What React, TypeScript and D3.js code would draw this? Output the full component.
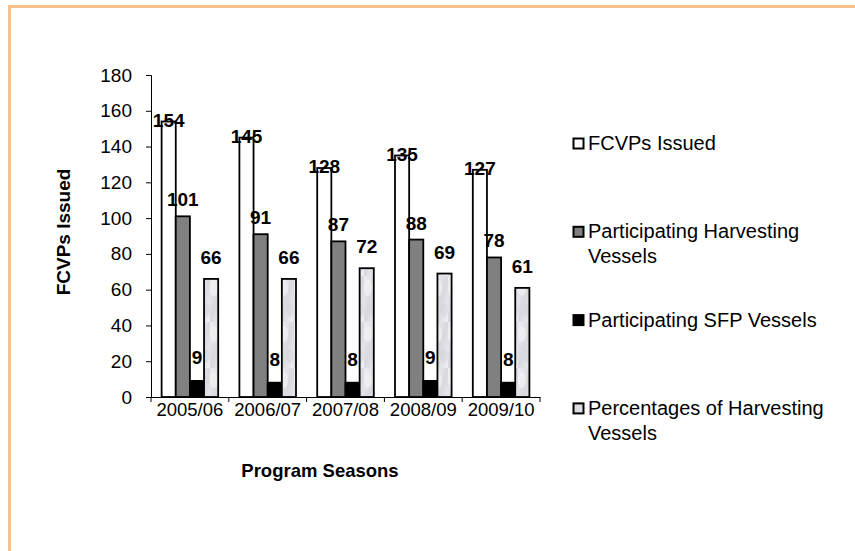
import React, { useEffect, useRef } from 'react';
import * as d3 from 'd3';

// data
const seasons = ['2005/06', '2006/07', '2007/08', '2008/09', '2009/10'];
const seriesNames = [
  'FCVPs Issued',
  'Participating Harvesting Vessels',
  'Participating SFP Vessels',
  'Percentages of Harvesting Vessels',
];
const fcvpsIssued = [154, 145, 128, 135, 127];
const harvestingVessels = [101, 91, 87, 88, 78];
const sfpVessels = [9, 8, 8, 9, 8];
const harvestingPct = [66, 66, 72, 69, 61];
const yTicks = [0, 20, 40, 60, 80, 100, 120, 140, 160, 180];

const legendLines = [
  ['FCVPs Issued'],
  ['Participating Harvesting', 'Vessels'],
  ['Participating SFP Vessels'],
  ['Percentages of Harvesting', 'Vessels'],
];

const W = 855;
const H = 551;
const font = 'Arial, "Liberation Sans", sans-serif';
const fills = ['#ffffff', '#808080', '#000000', 'url(#marble)'];
// label baseline offset from bar top, per series
const labelDy = [5, -10, -17, -15];

export default function App() {
  const ref = useRef<SVGSVGElement>(null);

  useEffect(() => {
    const svg = d3.select(ref.current);
    svg.selectAll('*').remove();

    // marble-ish fill for last series
    const defs = svg.append('defs');
    const grad = defs.append('linearGradient')
      .attr('id', 'marbleGrad')
      .attr('x1', 0).attr('y1', 0).attr('x2', 1).attr('y2', 1);
    grad.append('stop').attr('offset', '0%').attr('stop-color', '#eceef2');
    grad.append('stop').attr('offset', '50%').attr('stop-color', '#d8d9df');
    grad.append('stop').attr('offset', '100%').attr('stop-color', '#eeeff3');
    const pat = defs.append('pattern')
      .attr('id', 'marble')
      .attr('patternUnits', 'userSpaceOnUse')
      .attr('width', 14).attr('height', 46);
    pat.append('rect').attr('width', 14).attr('height', 46).attr('fill', 'url(#marbleGrad)');
    pat.append('ellipse').attr('cx', 4).attr('cy', 12).attr('rx', 4).attr('ry', 8)
      .attr('fill', '#f5f5f7').attr('opacity', 0.6);
    pat.append('ellipse').attr('cx', 10).attr('cy', 34).attr('rx', 4).attr('ry', 7)
      .attr('fill', '#cfd0d6').attr('opacity', 0.45);

    // frame (only top and left edge visible)
    svg.append('rect')
      .attr('x', 9.5).attr('y', 6.5)
      .attr('width', W + 20).attr('height', H + 20)
      .attr('fill', 'none')
      .attr('stroke', '#f9c08e')
      .attr('stroke-width', 3);

    const left = 151, right = 540, top = 75, bottom = 397;

    const x = d3.scaleBand<string>().domain(seasons).range([left, right]).padding(0);
    const inner = d3.scaleBand<string>()
      .domain(seriesNames)
      .range([0, x.bandwidth()])
      .paddingInner(0)
      .paddingOuter(0.75);
    const y = d3.scaleLinear().domain([0, 180]).range([bottom, top]);

    const series = [fcvpsIssued, harvestingVessels, sfpVessels, harvestingPct];

    // y axis
    const yAxis = svg.append('g')
      .attr('transform', `translate(${left},0)`)
      .call(d3.axisLeft(y).tickValues(yTicks).tickSize(5).tickPadding(14));
    yAxis.select('.domain').attr('stroke', '#000').attr('stroke-width', 1);
    yAxis.selectAll('.tick line').attr('stroke', '#000');
    yAxis.selectAll('.tick text')
      .attr('font-family', font).attr('font-size', 19).attr('fill', '#000');

    // x axis
    const xAxis = svg.append('g')
      .attr('transform', `translate(0,${bottom})`)
      .call(d3.axisBottom(x).tickSize(0).tickPadding(6));
    xAxis.select('.domain').attr('stroke', '#000');
    xAxis.selectAll('.tick text')
      .attr('font-family', font).attr('font-size', 18.5).attr('fill', '#000')
      .attr('dy', '0.71em');
    const bounds = seasons.map(s => x(s) as number).concat([right]);
    xAxis.selectAll('line.sep')
      .data(bounds)
      .enter()
      .append('line')
      .attr('class', 'sep')
      .attr('x1', d => d).attr('x2', d => d)
      .attr('y1', 0).attr('y2', 5)
      .attr('stroke', '#000');

    // bars
    series.forEach((vals, si) => {
      const g = svg.append('g');
      g.selectAll('rect')
        .data(vals)
        .enter()
        .append('rect')
        .attr('x', (d, i) => (x(seasons[i]) as number) + (inner(seriesNames[si]) as number))
        .attr('y', d => y(d))
        .attr('width', inner.bandwidth())
        .attr('height', d => bottom - y(d))
        .attr('fill', fills[si])
        .attr('stroke', '#000')
        .attr('stroke-width', 1.8);
    });

    // data labels
    series.forEach((vals, si) => {
      svg.append('g').selectAll('text')
        .data(vals)
        .enter()
        .append('text')
        .attr('x', (d, i) => (x(seasons[i]) as number) + (inner(seriesNames[si]) as number) + inner.bandwidth() / 2)
        .attr('y', d => y(d) + labelDy[si])
        .attr('text-anchor', 'middle')
        .attr('font-family', font)
        .attr('font-size', 19)
        .attr('font-weight', 'bold')
        .attr('fill', '#000')
        .text(d => d);
    });

    // axis titles
    svg.append('text')
      .attr('transform', `translate(70,232) rotate(-90)`)
      .attr('text-anchor', 'middle')
      .attr('font-family', font).attr('font-size', 19).attr('font-weight', 'bold')
      .text('FCVPs Issued');
    svg.append('text')
      .attr('x', 320).attr('y', 477)
      .attr('text-anchor', 'middle')
      .attr('font-family', font).attr('font-size', 18.5).attr('font-weight', 'bold')
      .text('Program Seasons');

    // legend
    const lg = svg.append('g');
    legendLines.forEach((lines, i) => {
      const base = 150 + i * 88.3;
      lg.append('rect')
        .attr('x', 573.5).attr('y', base - 11.5)
        .attr('width', 10).attr('height', 10)
        .attr('fill', fills[i])
        .attr('stroke', '#000').attr('stroke-width', 2);
      lines.forEach((t, j) => {
        lg.append('text')
          .attr('x', 588).attr('y', base + j * 25)
          .attr('font-family', font).attr('font-size', 20)
          .attr('fill', '#000')
          .text(t);
      });
    });
  }, []);

  return (
    <svg
      ref={ref}
      width={W}
      height={H}
      style={{ position: 'absolute', left: 0, top: 0, background: '#fff' }}
    />
  );
}
